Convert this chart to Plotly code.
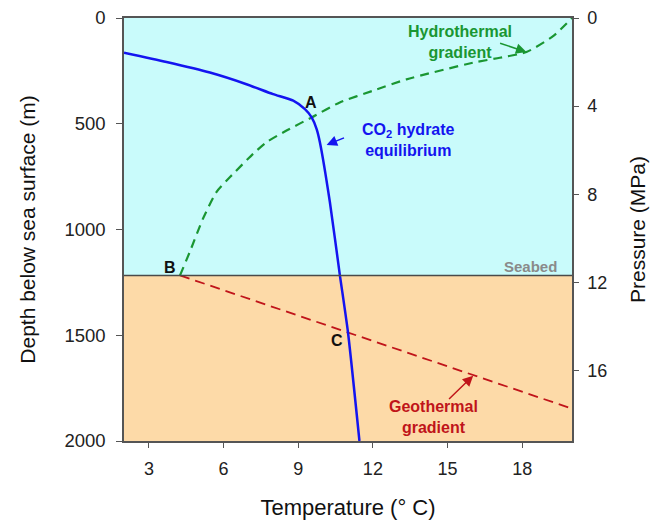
import plotly.graph_objects as go

# CO2 hydrate equilibrium curve (temperature °C, depth m)
hyd_T = [2.0, 3.71, 5.45, 6.92, 7.99, 8.8, 9.27, 9.54, 9.74, 9.87, 10.27, 10.67, 11.0, 11.46]
hyd_D = [164, 208, 258, 313, 360, 391, 431, 470, 525, 587, 869, 1213, 1487, 2000]

# Hydrothermal gradient (water column)
hth_T = [4.25, 4.65, 5.18, 5.72, 6.26, 7.19, 7.73, 8.53, 9.54, 10.67, 12.0, 13.35, 16.03, 17.1, 18.17, 19.24, 20.0]
hth_D = [1217, 1104, 947, 822, 752, 642, 587, 532, 470, 399, 344, 290, 211, 188, 161, 86, 0]

# Geothermal gradient (sediment)
geo_T = [4.25, 20.0]
geo_D = [1217, 1847]

seabed_depth = 1217
x_ticks = [3, 6, 9, 12, 15, 18]
y_ticks = [0, 500, 1000, 1500, 2000]
p_ticks = [0, 4, 8, 12, 16]
p_max = 19.2

BLUE = "#1414f0"
GREEN = "#1a9632"
RED = "#c0141a"
FONT = "Liberation Sans, Arial, sans-serif"

fig = go.Figure()

fig.add_trace(go.Scatter(x=geo_T, y=geo_D, mode="lines",
                         line=dict(color=RED, width=1.8, dash="10px,6px"),
                         hoverinfo="skip", showlegend=False))
fig.add_trace(go.Scatter(x=hth_T, y=hth_D, mode="lines", line_shape="spline",
                         line=dict(color=GREEN, width=2.2, dash="9px,6px", smoothing=0.6),
                         hoverinfo="skip", showlegend=False))
fig.add_trace(go.Scatter(x=hyd_T, y=hyd_D, mode="lines", line_shape="spline",
                         line=dict(color=BLUE, width=2.5, smoothing=0.6),
                         hoverinfo="skip", showlegend=False))
# invisible trace for the pressure axis
fig.add_trace(go.Scatter(x=[2, 2], y=[0, p_max], yaxis="y2", mode="markers",
                         marker=dict(opacity=0), hoverinfo="skip", showlegend=False))

# background zones
fig.add_shape(type="rect", xref="x", yref="y", x0=2, x1=20, y0=0, y1=seabed_depth,
              fillcolor="#c9fbfb", line_width=0, layer="below")
fig.add_shape(type="rect", xref="x", yref="y", x0=2, x1=20, y0=seabed_depth, y1=2000,
              fillcolor="#fddaa8", line_width=0, layer="below")
fig.add_shape(type="line", xref="x", yref="y", x0=2, x1=20, y0=seabed_depth, y1=seabed_depth,
              line=dict(color="#4a4a4a", width=1.5))

ann = []
def label(text, x, y, color, size=15, xanchor="center"):
    ann.append(dict(x=x, y=y, xref="x", yref="y", text=text, showarrow=False,
                    font=dict(family=FONT, size=size, color=color), xanchor=xanchor,
                    yanchor="middle"))

def arrow(hx, hy, tx, ty, color):
    ann.append(dict(x=hx, y=hy, ax=tx, ay=ty, xref="x", yref="y", axref="x", ayref="y",
                    text="", showarrow=True, arrowhead=2, arrowsize=1.4, arrowwidth=1.5,
                    arrowcolor=color, standoff=0, startstandoff=0))

label("<b>Hydrothermal<br>gradient</b>", 15.5, 112, GREEN, 16)
arrow(18.17, 161, 17.05, 117, GREEN)
label("<b>CO<sub>2</sub> hydrate<br>equilibrium</b>", 13.45, 575, BLUE, 16)
arrow(10.14, 600, 10.9, 564, BLUE)
label("<b>Geothermal<br>gradient</b>", 14.45, 1888, RED, 16)
arrow(16.03, 1691, 15.0, 1808, RED)
label("<b>A</b>", 9.5, 400, "#111111", 16)
label("<b>B</b>", 3.86, 1182, "#111111", 16)
label("<b>C</b>", 10.55, 1526, "#111111", 16)
label("<b>Seabed</b>", 18.35, 1175, "#8a8a8a", 15)

# page body adds an 8px offset, margins compensate for it
fig.update_layout(
    width=663, height=521,
    margin=dict(l=116, r=99, t=10, b=88),
    paper_bgcolor="white", plot_bgcolor="white",
    font=dict(family=FONT, color="#222222"),
    annotations=ann,
    xaxis=dict(range=[2, 20], tickvals=x_ticks, ticks="outside", ticklen=5,
               tickcolor="#555", showline=True, linecolor="#555", linewidth=1.5,
               mirror=True, showgrid=False, zeroline=False, automargin=False,
               ticklabelstandoff=6,
               tickfont=dict(size=18, color="#222"),
               title=dict(text="Temperature (° C)", font=dict(size=22, color="#111"), standoff=21)),
    yaxis=dict(range=[2000, 0], tickvals=y_ticks, ticks="outside", ticklen=6,
               tickcolor="#555", showline=True, linecolor="#555", linewidth=1.5,
               mirror=True, showgrid=False, zeroline=False, automargin=False,
               ticklabelstandoff=7, ticklabeloverflow="allow",
               tickfont=dict(size=18.5, color="#222"),
               title=dict(text="Depth below sea surface (m)", font=dict(size=21, color="#111"), standoff=23)),
    yaxis2=dict(range=[p_max, 0], tickvals=p_ticks, overlaying="y", side="right",
                ticks="outside", ticklen=5, tickcolor="#555", showline=True,
                linecolor="#555", linewidth=1.5, showgrid=False, zeroline=False,
                automargin=False, ticklabelstandoff=5, ticklabeloverflow="allow",
                tickfont=dict(size=18, color="#222"),
                title=dict(text="Pressure (MPa)", font=dict(size=21, color="#111"), standoff=24)),
)

fig.write_html("out.html")
